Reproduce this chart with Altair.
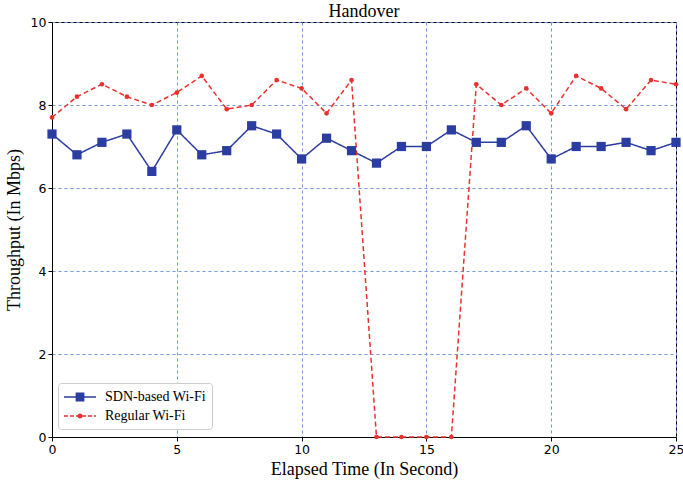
import altair as alt
import pandas as pd

# Throughput per second during a handover, two access schemes
seconds = list(range(26))
sdn_wifi = [7.3, 6.8, 7.1, 7.3, 6.4, 7.4, 6.8, 6.9, 7.5, 7.3, 6.7, 7.2, 6.9,
            6.6, 7.0, 7.0, 7.4, 7.1, 7.1, 7.5, 6.7, 7.0, 7.0, 7.1, 6.9, 7.1]
regular_wifi = [7.7, 8.2, 8.5, 8.2, 8.0, 8.3, 8.7, 7.9, 8.0, 8.6, 8.4, 7.8, 8.6,
                0.0, 0.0, 0.0, 0.0, 8.5, 8.0, 8.4, 7.8, 8.7, 8.4, 7.9, 8.6, 8.5]

series_names = ["SDN-based Wi-Fi", "Regular Wi-Fi"]
series_colors = ["#2b3da0", "#e8322e"]
series_dashes = [[1, 0], [5, 3]]
x_ticks = [0, 5, 10, 15, 20, 25]
y_ticks = [0, 2, 4, 6, 8, 10]

df = pd.DataFrame({
    "t": seconds + seconds,
    "v": sdn_wifi + regular_wifi,
    "series": [series_names[0]] * len(seconds) + [series_names[1]] * len(seconds),
})

serif = "Liberation Serif"
sans = "DejaVu Sans"
grid_color = "#6f97dc"


# Legend glyphs are filled paths in symbol units (scale 8 px per unit):
# a thin bar (solid or broken into dashes) with the marker on top.
def bar(x0, x1, h=0.094):
    return f"M{x0},{-h}H{x1}V{h}H{x0}Z"


solid_bar = bar(-2, 2)
dashed_bar = "".join(
    bar(a, min(a + 0.5, 2)) for a in [-2 + 0.75 * i for i in range(6)]
)
square = "M-0.55,-0.55H0.55V0.55H-0.55Z"
dot = "M0,-0.32A0.32,0.32 0 1,1 0,0.32A0.32,0.32 0 1,1 0,-0.32Z"
glyph_paths = [solid_bar + square, dashed_bar + dot]

legend = alt.Legend(
    title=None,
    orient="none",
    legendX=6,
    legendY=361,
    fillColor="white",
    strokeColor="#cccccc",
    cornerRadius=3,
    padding=6,
    labelFont=serif,
    labelFontSize=14,
    labelColor="black",
    symbolSize=256,
    symbolStrokeWidth=0,
    symbolOffset=8,
    symbolOpacity=1,
    labelOffset=17,
    rowPadding=4,
)

axis_style = dict(
    grid=True, gridColor=grid_color, gridDash=[3, 3], gridWidth=1,
    domainColor="black", tickColor="black", tickSize=4, labelFlush=False,
    labelFont=sans, labelFontSize=12.5, labelColor="black", labelPadding=2,
    titleFont=serif, titleFontSize=18, titleFontWeight="normal",
    titleColor="black", format="d",
)

x_enc = alt.X(
    "t:Q",
    scale=alt.Scale(domain=[0, 25], nice=False),
    axis=alt.Axis(values=x_ticks, title="Elapsed Time (In Second)",
                  titlePadding=5, **axis_style),
)
y_enc = alt.Y(
    "v:Q",
    scale=alt.Scale(domain=[0, 10], nice=False),
    axis=alt.Axis(values=y_ticks, title="Throughput (In Mbps)",
                  titlePadding=7, **axis_style),
)
color = alt.Color(
    "series:N",
    scale=alt.Scale(domain=series_names, range=series_colors),
    legend=legend,
)

base = alt.Chart(df)

lines = base.mark_line(strokeWidth=1.5, clip=False).encode(
    x=x_enc,
    y=y_enc,
    color=color,
    strokeDash=alt.StrokeDash(
        "series:N",
        scale=alt.Scale(domain=series_names, range=series_dashes),
        legend=None,
    ),
)

sdn_points = base.transform_filter(
    alt.datum.series == series_names[0]
).mark_square(size=85, opacity=1, clip=False).encode(x=x_enc, y=y_enc, color=color)

regular_points = base.transform_filter(
    alt.datum.series == series_names[1]
).mark_circle(size=22, opacity=1, clip=False).encode(x=x_enc, y=y_enc, color=color)

# carries only the legend glyph shapes; no rows pass the filter
legend_glyphs = base.mark_point(filled=True, opacity=1).encode(
    x=x_enc,
    y=y_enc,
    color=color,
    shape=alt.Shape(
        "series:N",
        scale=alt.Scale(domain=series_names, range=glyph_paths),
        legend=legend,
    ),
).transform_filter("false")

chart = (
    alt.layer(lines, sdn_points, regular_points, legend_glyphs)
    .properties(
        width=624,
        height=415,
        autosize=alt.AutoSizeParams(type="none"),
        padding={"left": 52, "top": 22, "right": 7, "bottom": 45},
        title=alt.TitleParams(
            "Handover", font=serif, fontSize=18, fontWeight="normal",
            color="black", offset=-5,
        ),
    )
    .configure_view(stroke="black", strokeWidth=1)
)

chart.save("out.html", embed_options={"renderer": "svg", "actions": False})
